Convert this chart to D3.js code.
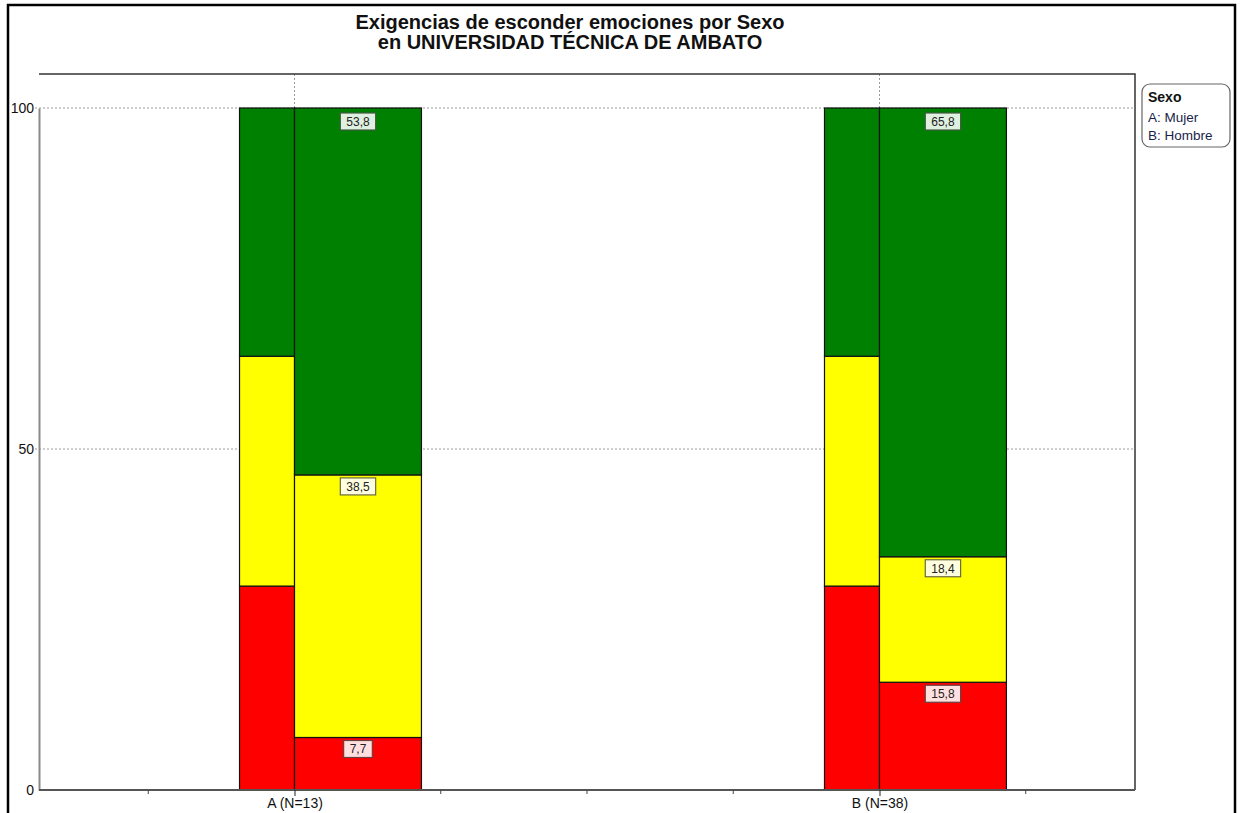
<!DOCTYPE html>
<html>
<head>
<meta charset="utf-8">
<script src="https://cdn.jsdelivr.net/npm/d3@7"></script>
<style>
  html, body { margin: 0; padding: 0; background: #fff; }
  svg { display: block; font-family: Arial, "Liberation Sans", sans-serif; }
</style>
</head>
<body>
<svg id="chart" width="1241" height="813"></svg>
<script>
// ---- data ----
const categories = ["A (N=13)", "B (N=38)"];
const legendTitle = "Sexo";
const legendItems = ["A: Mujer", "B: Hombre"];
const titleLines = ["Exigencias de esconder emociones por Sexo", "en UNIVERSIDAD TÉCNICA DE AMBATO"];
const levelKeys = ["rojo", "amarillo", "verde"];
// reference (narrow) bars
const refRojo = [29.9, 29.9];
const refAmarillo = [33.7, 33.7];
const refVerde = [36.4, 36.4];
// group (wide) bars
const grupoRojo = [7.7, 15.8];
const grupoAmarillo = [38.5, 18.4];
const grupoVerde = [53.8, 65.8];
const yTicks = [0, 50, 100];

// ---- styles ----
const fills = { rojo: "#ff0000", amarillo: "#ffff00", verde: "#008000" };
const labelFills = { rojo: "#ffe0e0", amarillo: "#ffffe0", verde: "#e0f0e0" };
const labelStrokes = { rojo: "#6a4040", amarillo: "#6a6a40", verde: "#405a40" };

const svg = d3.select("#chart");
svg.append("rect").attr("width", 1241).attr("height", 813).attr("fill", "#fff");

const plot = { left: 39, right: 1135, top: 74, bottom: 790 };

const x = d3.scalePoint().domain(categories).range([plot.left, plot.right]).padding(0.4368);
const y = d3.scaleLinear().domain([0, 100]).range([plot.bottom, 108]);
const step = x.step();
const narrowW = step * 0.094;
const wideW = step * 0.217;

const refRows = categories.map((c, i) => ({ cat: c, rojo: refRojo[i], amarillo: refAmarillo[i], verde: refVerde[i] }));
const grpRows = categories.map((c, i) => ({ cat: c, rojo: grupoRojo[i], amarillo: grupoAmarillo[i], verde: grupoVerde[i] }));
const stack = d3.stack().keys(levelKeys);
const refStack = stack(refRows);
const grpStack = stack(grpRows);

// outer frame
svg.append("rect").attr("x", 8).attr("y", 5).attr("width", 1227).attr("height", 830)
  .attr("fill", "none").attr("stroke", "#000").attr("stroke-width", 2.5);

// title
svg.append("g").selectAll("text").data(titleLines).join("text")
  .attr("x", 570).attr("y", (d, i) => 29 + i * 20)
  .attr("text-anchor", "middle").attr("font-size", 20).attr("font-weight", "bold")
  .attr("fill", "#111").text(d => d);

// gridlines
const grid = svg.append("g");
grid.selectAll("line.h").data(yTicks.filter(t => t > 0)).join("line")
  .attr("x1", 35).attr("x2", plot.right)
  .attr("y1", d => y(d)).attr("y2", d => y(d))
  .attr("stroke", "#9a9a9a").attr("stroke-dasharray", "2,2").attr("stroke-width", 1);
grid.selectAll("line.v").data(categories).join("line")
  .attr("x1", d => x(d)).attr("x2", d => x(d))
  .attr("y1", plot.top).attr("y2", plot.bottom)
  .attr("stroke", "#9a9a9a").attr("stroke-dasharray", "2,2").attr("stroke-width", 1);

// bars
const bars = svg.append("g");
refStack.forEach(layer => {
  bars.selectAll(null).data(layer).join("rect")
    .attr("x", d => x(d.data.cat) - narrowW)
    .attr("width", narrowW)
    .attr("y", d => y(d[1]))
    .attr("height", d => y(d[0]) - y(d[1]))
    .attr("fill", fills[layer.key])
    .attr("stroke", "#111").attr("stroke-width", 1.2);
});
grpStack.forEach(layer => {
  bars.selectAll(null).data(layer).join("rect")
    .attr("x", d => x(d.data.cat))
    .attr("width", wideW)
    .attr("y", d => y(d[1]))
    .attr("height", d => y(d[0]) - y(d[1]))
    .attr("fill", fills[layer.key])
    .attr("stroke", "#111").attr("stroke-width", 1.2);
});

// value labels
const labels = svg.append("g");
grpStack.forEach(layer => {
  layer.forEach(d => {
    const v = d[1] - d[0];
    const txt = v.toFixed(1).replace(".", ",");
    const cx = x(d.data.cat) + wideW / 2;
    const top = y(d[1]) + (d[1] >= 99.9 ? 5 : 3);
    const g = labels.append("g");
    const t = g.append("text").attr("x", cx).attr("y", top + 13)
      .attr("text-anchor", "middle").attr("font-size", 12).attr("fill", "#222").text(txt);
    const w = t.node().getComputedTextLength() + 12;
    g.insert("rect", "text").attr("x", cx - w / 2).attr("y", top).attr("width", w).attr("height", 17)
      .attr("fill", labelFills[layer.key]).attr("stroke", labelStrokes[layer.key]).attr("stroke-width", 1.2);
  });
});

// plot frame (top & right)
svg.append("path")
  .attr("d", `M${plot.left},${plot.top}H${plot.right}V${plot.bottom}`)
  .attr("fill", "none").attr("stroke", "#333").attr("stroke-width", 1.5);

// y axis
const yAxis = d3.axisLeft(y).tickValues(yTicks).tickSize(0).tickPadding(5).tickFormat(d3.format("d"));
const gy = svg.append("g").attr("transform", `translate(${plot.left},0)`).call(yAxis);
gy.select(".domain").attr("stroke", "#8a8a8a").attr("stroke-width", 2);
gy.selectAll("text").attr("font-size", 14).attr("fill", "#111").attr("font-family", "Arial, 'Liberation Sans', sans-serif");

// x axis
const xAxis = d3.axisBottom(x).tickSize(6).tickPadding(6);
const gx = svg.append("g").attr("transform", `translate(0,${plot.bottom})`).call(xAxis);
gx.select(".domain").attr("stroke", "#555").attr("stroke-width", 2).attr("d", `M${plot.left},0H${plot.right}`);
gx.selectAll(".tick line").attr("stroke", "#222");
gx.selectAll("text").attr("font-size", 14).attr("fill", "#111").attr("font-family", "Arial, 'Liberation Sans', sans-serif")
  .attr("dy", "0.45em");
// minor ticks at quarter steps
const minorPos = [];
categories.forEach(c => { minorPos.push(x(c) - step / 4, x(c) + step / 4); });
gx.selectAll("line.minor").data(minorPos.concat([(x(categories[0]) + x(categories[1])) / 2 ])).join("line")
  .attr("class", "minor").attr("x1", d => d).attr("x2", d => d).attr("y1", 0).attr("y2", 4)
  .attr("stroke", "#444");

// legend
const lg = svg.append("g").attr("transform", "translate(1142,84)");
lg.append("rect").attr("width", 88).attr("height", 63).attr("rx", 8)
  .attr("fill", "#fff").attr("stroke", "#666").attr("stroke-width", 1.2);
lg.append("text").attr("x", 6).attr("y", 18).attr("font-size", 14).attr("font-weight", "bold")
  .attr("fill", "#111").text(legendTitle);
lg.selectAll("text.item").data(legendItems).join("text").attr("class", "item")
  .attr("x", 6).attr("y", (d, i) => 38 + i * 18).attr("font-size", 13.5).attr("fill", "#1a1f4a").text(d => d);
</script>
</body>
</html>
